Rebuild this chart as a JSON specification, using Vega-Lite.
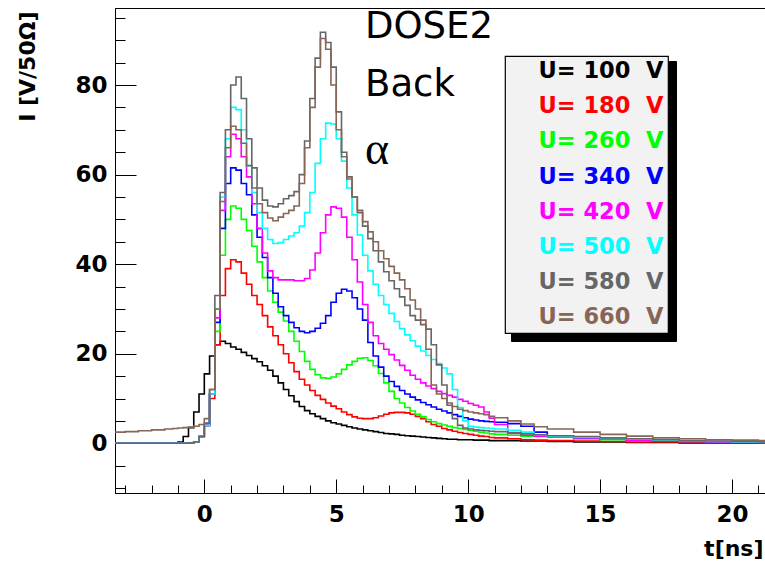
{
  "$schema": "https://vega.github.io/schema/vega-lite/v6.json",
  "width": 651,
  "height": 485,
  "autosize": {"type": "none"},
  "padding": {"left": 115, "top": 8, "right": 0, "bottom": 72},
  "background": "white",
  "config": {"view": {"stroke": "#000", "strokeWidth": 1}},
  "title": {
    "text": ["DOSE2", "Back"],
    "subtitle": "α",
    "anchor": "start",
    "orient": "top",
    "frame": "group",
    "offset": 0,
    "dx": 250,
    "dy": 167,
    "baseline": "top",
    "font": "DejaVu Sans",
    "fontSize": 37,
    "fontWeight": "normal",
    "color": "#000",
    "lineHeight": 58,
    "subtitleFont": "Liberation Serif",
    "subtitleFontSize": 46,
    "subtitleColor": "#000",
    "subtitlePadding": 24
  },
  "data": {
    "values": [
      {"t": -3.4, "U100": 0, "U180": 0, "U260": 0, "U340": 0, "U420": 0, "U500": 0, "U580": 0, "U660": 2.5},
      {"t": -3.0, "U100": 0, "U180": 0, "U260": 0, "U340": 0, "U420": 0, "U500": 0, "U580": 0, "U660": 2.6},
      {"t": -2.5, "U100": 0, "U180": 0, "U260": 0, "U340": 0, "U420": 0, "U500": 0, "U580": 0, "U660": 2.8},
      {"t": -2.0, "U100": 0, "U180": 0, "U260": 0, "U340": 0, "U420": 0, "U500": 0, "U580": 0, "U660": 3.0},
      {"t": -1.5, "U100": 0, "U180": 0, "U260": 0, "U340": 0, "U420": 0, "U500": 0, "U580": 0, "U660": 3.2},
      {"t": -1.2, "U100": 0, "U180": 0, "U260": 0, "U340": 0, "U420": 0, "U500": 0, "U580": 0, "U660": 3.3},
      {"t": -1.0, "U100": 0.3, "U180": 0, "U260": 0, "U340": 0, "U420": 0, "U500": 0, "U580": 0, "U660": 3.4},
      {"t": -0.8, "U100": 1.5, "U180": 0, "U260": 0, "U340": 0, "U420": 0, "U500": 0, "U580": 0, "U660": 3.5},
      {"t": -0.6, "U100": 3.5, "U180": 0.1, "U260": 0.1, "U340": 0.1, "U420": 0.1, "U500": 0.1, "U580": 0.1, "U660": 3.6},
      {"t": -0.4, "U100": 7, "U180": 0.3, "U260": 0.3, "U340": 0.3, "U420": 0.3, "U500": 0.3, "U580": 0.3, "U660": 3.8},
      {"t": -0.2, "U100": 11, "U180": 1.5, "U260": 1.5, "U340": 1.5, "U420": 1.5, "U500": 1.5, "U580": 1.5, "U660": 4.2},
      {"t": 0.0, "U100": 15.5, "U180": 4, "U260": 4, "U340": 4, "U420": 4, "U500": 4, "U580": 4.5, "U660": 5.5},
      {"t": 0.2, "U100": 19.5, "U180": 10, "U260": 11, "U340": 11, "U420": 11, "U500": 11, "U580": 12, "U660": 12},
      {"t": 0.4, "U100": 22, "U180": 22, "U260": 25, "U340": 27, "U420": 28, "U500": 30, "U580": 33, "U660": 30},
      {"t": 0.6, "U100": 22.8, "U180": 33, "U260": 42, "U340": 48, "U420": 52, "U500": 55, "U580": 56, "U660": 54},
      {"t": 0.8, "U100": 22.3, "U180": 39, "U260": 50, "U340": 58, "U420": 64, "U500": 68, "U580": 70, "U660": 66},
      {"t": 1.0, "U100": 21.5, "U180": 41, "U260": 53, "U340": 61.5, "U420": 69, "U500": 75, "U580": 80, "U660": 70.8},
      {"t": 1.2, "U100": 21, "U180": 40.5, "U260": 52.5, "U340": 61, "U420": 68, "U500": 74.5, "U580": 81.8, "U660": 70},
      {"t": 1.4, "U100": 20.3, "U180": 38, "U260": 50, "U340": 58, "U420": 64, "U500": 70, "U580": 77, "U660": 67},
      {"t": 1.6, "U100": 19.6, "U180": 35.5, "U260": 47.5, "U340": 55.5, "U420": 59.5, "U500": 62, "U580": 68, "U660": 62},
      {"t": 1.8, "U100": 18.9, "U180": 33, "U260": 44, "U340": 51, "U420": 53.5, "U500": 56, "U580": 61.5, "U660": 57},
      {"t": 2.0, "U100": 18.2, "U180": 31, "U260": 40.5, "U340": 46, "U420": 48, "U500": 51.5, "U580": 57, "U660": 53.5},
      {"t": 2.2, "U100": 17.3, "U180": 28.5, "U260": 37, "U340": 41.5, "U420": 42.5, "U500": 48, "U580": 54.3, "U660": 51.5},
      {"t": 2.4, "U100": 16.3, "U180": 26, "U260": 34, "U340": 37, "U420": 38.5, "U500": 45.5, "U580": 53, "U660": 50.3},
      {"t": 2.6, "U100": 15, "U180": 24, "U260": 31.5, "U340": 33.5, "U420": 37, "U500": 44.6, "U580": 52.8, "U660": 49.7},
      {"t": 2.8, "U100": 13.5, "U180": 22, "U260": 29.3, "U340": 30.5, "U420": 36.5, "U500": 44.8, "U580": 53.5, "U660": 50.5},
      {"t": 3.0, "U100": 12, "U180": 20, "U260": 27.3, "U340": 28.5, "U420": 36.5, "U500": 45.5, "U580": 54.6, "U660": 51.3},
      {"t": 3.2, "U100": 10.6, "U180": 18, "U260": 25, "U340": 27, "U420": 36.5, "U500": 46.3, "U580": 55.3, "U660": 52},
      {"t": 3.4, "U100": 9.3, "U180": 16, "U260": 22.8, "U340": 25.8, "U420": 36.3, "U500": 47, "U580": 56.2, "U660": 53},
      {"t": 3.6, "U100": 8.2, "U180": 14.3, "U260": 20.5, "U340": 25, "U420": 36.3, "U500": 48.5, "U580": 60, "U660": 58},
      {"t": 3.8, "U100": 7.3, "U180": 13, "U260": 18.3, "U340": 24.7, "U420": 36.8, "U500": 51.5, "U580": 67.5, "U660": 66},
      {"t": 4.0, "U100": 6.6, "U180": 11.8, "U260": 16.5, "U340": 25, "U420": 38.7, "U500": 56, "U580": 77, "U660": 75},
      {"t": 4.2, "U100": 6.0, "U180": 10.7, "U260": 15.3, "U340": 25.7, "U420": 42.5, "U500": 62.5, "U580": 86, "U660": 84},
      {"t": 4.4, "U100": 5.5, "U180": 9.8, "U260": 14.6, "U340": 26.8, "U420": 47, "U500": 68, "U580": 91.8, "U660": 90.4},
      {"t": 4.6, "U100": 5.0, "U180": 9.0, "U260": 14.5, "U340": 28.5, "U420": 51, "U500": 71.5, "U580": 89.5, "U660": 88},
      {"t": 4.8, "U100": 4.6, "U180": 8.3, "U260": 14.8, "U340": 31.5, "U420": 52.8, "U500": 71.3, "U580": 84, "U660": 80},
      {"t": 5.0, "U100": 4.3, "U180": 7.7, "U260": 15.5, "U340": 33.5, "U420": 52.5, "U500": 68, "U580": 74, "U660": 70},
      {"t": 5.2, "U100": 4.0, "U180": 7.0, "U260": 16.5, "U340": 34.4, "U420": 50.5, "U500": 63, "U580": 65, "U660": 64},
      {"t": 5.4, "U100": 3.7, "U180": 6.4, "U260": 17.5, "U340": 34, "U420": 46, "U500": 57, "U580": 59.5, "U660": 59},
      {"t": 5.6, "U100": 3.4, "U180": 5.9, "U260": 18.3, "U340": 32.5, "U420": 41, "U500": 51, "U580": 55, "U660": 55},
      {"t": 5.8, "U100": 3.2, "U180": 5.6, "U260": 19, "U340": 30, "U420": 36, "U500": 46.5, "U580": 51.5, "U660": 52},
      {"t": 6.0, "U100": 3.0, "U180": 5.5, "U260": 19.1, "U340": 27.5, "U420": 31, "U500": 42, "U580": 48.5, "U660": 49.5},
      {"t": 6.2, "U100": 2.8, "U180": 5.5, "U260": 18.5, "U340": 22.5, "U420": 27, "U500": 38.5, "U580": 45.7, "U660": 47.2},
      {"t": 6.4, "U100": 2.6, "U180": 5.7, "U260": 17.3, "U340": 19.5, "U420": 24, "U500": 35.5, "U580": 43, "U660": 45},
      {"t": 6.6, "U100": 2.4, "U180": 6.1, "U260": 15.6, "U340": 17, "U420": 22.3, "U500": 33, "U580": 40.5, "U660": 43},
      {"t": 6.8, "U100": 2.2, "U180": 6.5, "U260": 13.5, "U340": 15, "U420": 21, "U500": 31, "U580": 38.3, "U660": 41.2},
      {"t": 7.0, "U100": 2.1, "U180": 6.8, "U260": 11.6, "U340": 13.8, "U420": 19.8, "U500": 29, "U580": 36.3, "U660": 39.5},
      {"t": 7.2, "U100": 2.0, "U180": 6.9, "U260": 10, "U340": 12.7, "U420": 18.6, "U500": 27.2, "U580": 34.5, "U660": 38},
      {"t": 7.4, "U100": 1.8, "U180": 6.9, "U260": 9, "U340": 11.8, "U420": 17.4, "U500": 25.6, "U580": 32.7, "U660": 36.5},
      {"t": 7.6, "U100": 1.7, "U180": 6.8, "U260": 8, "U340": 11, "U420": 16.3, "U500": 24.2, "U580": 30.8, "U660": 34.5},
      {"t": 7.8, "U100": 1.6, "U180": 6.5, "U260": 7.2, "U340": 10.3, "U420": 15.2, "U500": 22.9, "U580": 28.5, "U660": 32},
      {"t": 8.0, "U100": 1.5, "U180": 6.0, "U260": 6.5, "U340": 9.7, "U420": 14.3, "U500": 21.7, "U580": 27.5, "U660": 30},
      {"t": 8.2, "U100": 1.4, "U180": 5.5, "U260": 5.9, "U340": 9.1, "U420": 13.5, "U500": 20.6, "U580": 26.5, "U660": 27.5},
      {"t": 8.4, "U100": 1.3, "U180": 4.8, "U260": 5.3, "U340": 8.6, "U420": 12.8, "U500": 19.6, "U580": 25.5, "U660": 21},
      {"t": 8.6, "U100": 1.2, "U180": 4.2, "U260": 4.8, "U340": 8.1, "U420": 12.2, "U500": 18.7, "U580": 22, "U660": 13},
      {"t": 8.8, "U100": 1.1, "U180": 3.8, "U260": 4.4, "U340": 7.6, "U420": 11.6, "U500": 17.8, "U580": 17.5, "U660": 11},
      {"t": 9.0, "U100": 1.0, "U180": 3.3, "U260": 4.1, "U340": 7.2, "U420": 11.1, "U500": 16.8, "U580": 13, "U660": 10},
      {"t": 9.2, "U100": 0.9, "U180": 3.0, "U260": 3.8, "U340": 6.8, "U420": 10.7, "U500": 15.5, "U580": 8.5, "U660": 9},
      {"t": 9.4, "U100": 0.9, "U180": 2.7, "U260": 3.5, "U340": 6.4, "U420": 10.3, "U500": 12, "U580": 5.5, "U660": 8.2},
      {"t": 9.6, "U100": 0.8, "U180": 2.4, "U260": 3.3, "U340": 6.0, "U420": 9.8, "U500": 8, "U580": 4.0, "U660": 7.6},
      {"t": 9.8, "U100": 0.8, "U180": 2.2, "U260": 3.1, "U340": 5.7, "U420": 9.4, "U500": 5, "U580": 3.4, "U660": 7.3},
      {"t": 10.0, "U100": 0.8, "U180": 2.0, "U260": 2.9, "U340": 5.4, "U420": 8.9, "U500": 3.8, "U580": 3.2, "U660": 7.0},
      {"t": 10.2, "U100": 0.7, "U180": 1.8, "U260": 2.7, "U340": 5.2, "U420": 8.5, "U500": 3.6, "U580": 3.0, "U660": 6.8},
      {"t": 10.4, "U100": 0.7, "U180": 1.6, "U260": 2.5, "U340": 5.0, "U420": 8.1, "U500": 3.5, "U580": 2.9, "U660": 6.6},
      {"t": 10.6, "U100": 0.7, "U180": 1.5, "U260": 2.3, "U340": 4.9, "U420": 7.0, "U500": 3.4, "U580": 2.8, "U660": 6.4},
      {"t": 10.8, "U100": 0.6, "U180": 1.3, "U260": 2.1, "U340": 4.8, "U420": 5.6, "U500": 3.3, "U580": 2.7, "U660": 6.0},
      {"t": 11.0, "U100": 0.6, "U180": 1.2, "U260": 2.0, "U340": 4.7, "U420": 4.2, "U500": 3.2, "U580": 2.6, "U660": 5.7},
      {"t": 11.5, "U100": 0.6, "U180": 1.0, "U260": 1.8, "U340": 4.4, "U420": 2.2, "U500": 2.9, "U580": 2.4, "U660": 5.0},
      {"t": 12.0, "U100": 0.5, "U180": 0.8, "U260": 1.6, "U340": 3.8, "U420": 1.8, "U500": 2.5, "U580": 2.1, "U660": 4.3},
      {"t": 12.5, "U100": 0.5, "U180": 0.7, "U260": 1.5, "U340": 2.5, "U420": 1.6, "U500": 1.9, "U580": 1.9, "U660": 3.7},
      {"t": 13.0, "U100": 0.4, "U180": 0.6, "U260": 1.4, "U340": 1.5, "U420": 1.5, "U500": 1.6, "U580": 1.7, "U660": 3.2},
      {"t": 14.0, "U100": 0.3, "U180": 0.5, "U260": 1.1, "U340": 1.1, "U420": 1.2, "U500": 1.3, "U580": 1.5, "U660": 2.5},
      {"t": 15.0, "U100": 0.3, "U180": 0.4, "U260": 0.8, "U340": 0.9, "U420": 0.9, "U500": 1.1, "U580": 1.2, "U660": 2.0},
      {"t": 16.0, "U100": 0.2, "U180": 0.3, "U260": 0.6, "U340": 0.7, "U420": 0.7, "U500": 0.9, "U580": 1.0, "U660": 1.6},
      {"t": 17.0, "U100": 0.2, "U180": 0.3, "U260": 0.5, "U340": 0.5, "U420": 0.5, "U500": 0.7, "U580": 0.8, "U660": 1.2},
      {"t": 18.0, "U100": 0.1, "U180": 0.2, "U260": 0.4, "U340": 0.4, "U420": 0.4, "U500": 0.5, "U580": 0.6, "U660": 1.0},
      {"t": 19.0, "U100": 0.1, "U180": 0.2, "U260": 0.3, "U340": 0.3, "U420": 0.3, "U500": 0.4, "U580": 0.5, "U660": 0.8},
      {"t": 20.0, "U100": 0.1, "U180": 0.2, "U260": 0.3, "U340": 0.3, "U420": 0.3, "U500": 0.3, "U580": 0.4, "U660": 0.7},
      {"t": 21.0, "U100": 0.1, "U180": 0.1, "U260": 0.2, "U340": 0.2, "U420": 0.2, "U500": 0.3, "U580": 0.3, "U660": 0.6},
      {"t": 21.4, "U100": 0.1, "U180": 0.1, "U260": 0.2, "U340": 0.2, "U420": 0.2, "U500": 0.3, "U580": 0.3, "U660": 0.6}
    ]
  },
  "transform": [
    {"fold": ["U100", "U180", "U260", "U340", "U420", "U500", "U580", "U660"], "as": ["series", "I"]}
  ],
  "mark": {"type": "line", "interpolate": "step-after", "strokeWidth": 1.6, "clip": true},
  "encoding": {
    "x": {
      "field": "t",
      "type": "quantitative",
      "scale": {"domain": [-3.385, 21.29], "nice": false, "zero": false},
      "axis": {
        "values": [-3, -2, -1, 0, 1, 2, 3, 4, 5, 6, 7, 8, 9, 10, 11, 12, 13, 14, 15, 16, 17, 18, 19, 20, 21],
        "labelExpr": "datum.value % 5 === 0 ? datum.label : ''",
        "tickSize": {"condition": {"test": "datum.value % 5 === 0", "value": -14}, "value": -8},
        "labelPadding": 24,
        "labelFont": "DejaVu Sans",
        "labelFontWeight": "bold",
        "labelFontSize": 23,
        "labelColor": "#000",
        "labelOverlap": false,
        "labelFlush": false,
        "tickColor": "#000",
        "tickWidth": 1,
        "domainColor": "#000",
        "grid": false,
        "title": "t[ns]",
        "titleFont": "DejaVu Sans",
        "titleFontWeight": "bold",
        "titleFontSize": 22,
        "titleColor": "#000",
        "titleAlign": "right",
        "titleBaseline": "middle",
        "titleX": 648,
        "titleY": 55
      }
    },
    "y": {
      "field": "I",
      "type": "quantitative",
      "scale": {"domain": [-11.1, 97.2], "nice": false, "zero": false},
      "axis": {
        "values": [-10, -5, 0, 5, 10, 15, 20, 25, 30, 35, 40, 45, 50, 55, 60, 65, 70, 75, 80, 85, 90, 95],
        "labelExpr": "datum.value % 20 === 0 ? datum.label : ''",
        "tickSize": {"condition": {"test": "datum.value % 20 === 0", "value": -21}, "value": -10},
        "labelPadding": 29,
        "labelFont": "DejaVu Sans",
        "labelFontWeight": "bold",
        "labelFontSize": 23,
        "labelColor": "#000",
        "labelOverlap": false,
        "labelFlush": false,
        "tickColor": "#000",
        "tickWidth": 1,
        "domainColor": "#000",
        "grid": false,
        "title": "I [V/50Ω]",
        "titleFont": "DejaVu Sans",
        "titleFontWeight": "bold",
        "titleFontSize": 22,
        "titleColor": "#000",
        "titleAngle": 270,
        "titleAlign": "right",
        "titleBaseline": "middle",
        "titleX": -88,
        "titleY": 3
      }
    },
    "color": {
      "field": "series",
      "type": "nominal",
      "scale": {
        "domain": ["U100", "U180", "U260", "U340", "U420", "U500", "U580", "U660"],
        "range": ["#000000", "#ff0000", "#00ff00", "#0000ff", "#ff00ff", "#00ffff", "#666666", "#876657"]
      },
      "legend": {
        "orient": "none",
        "legendX": 390,
        "legendY": 48,
        "title": null,
        "fillColor": "#f2f2f2",
        "strokeColor": "#000",
        "padding": 4,
        "symbolSize": 0,
        "symbolStrokeWidth": 0,
        "symbolOpacity": 0,
        "labelOffset": 7,
        "labelFont": "DejaVu Sans",
        "labelFontWeight": "bold",
        "labelFontSize": 22.5,
        "labelLimit": 300,
        "rowPadding": 12.1,
        "labelExpr": "'U= ' + slice(datum.label, 1) + '\u00a0\u00a0V'",
        "zindex": 2,
        "encode": {
          "labels": {"update": {"fill": {"scale": "color", "field": "value"}}},
          "legend": {"update": {"strokeWidth": {"value": 1.2}}}
        }
      }
    },
    "opacity": {
      "field": "series",
      "type": "nominal",
      "scale": {
        "type": "ordinal",
        "domain": ["U660", "U580", "U500", "U420", "U340", "U260", "U180", "U100"],
        "range": [1, 1, 1, 1, 1, 1, 1, 1]
      },
      "legend": {
        "orient": "none",
        "legendX": 396,
        "legendY": 53,
        "title": null,
        "fillColor": "#000",
        "strokeColor": "#000",
        "padding": 4,
        "columns": 2,
        "columnPadding": 21,
        "symbolType": "square",
        "symbolSize": 4556,
        "symbolStrokeWidth": 0,
        "symbolOpacity": 0,
        "labelOffset": 0,
        "labelFontSize": 22.5,
        "labelOpacity": 0,
        "rowPadding": 0,
        "labelExpr": "''",
        "zindex": 1
      }
    }
  }
}
